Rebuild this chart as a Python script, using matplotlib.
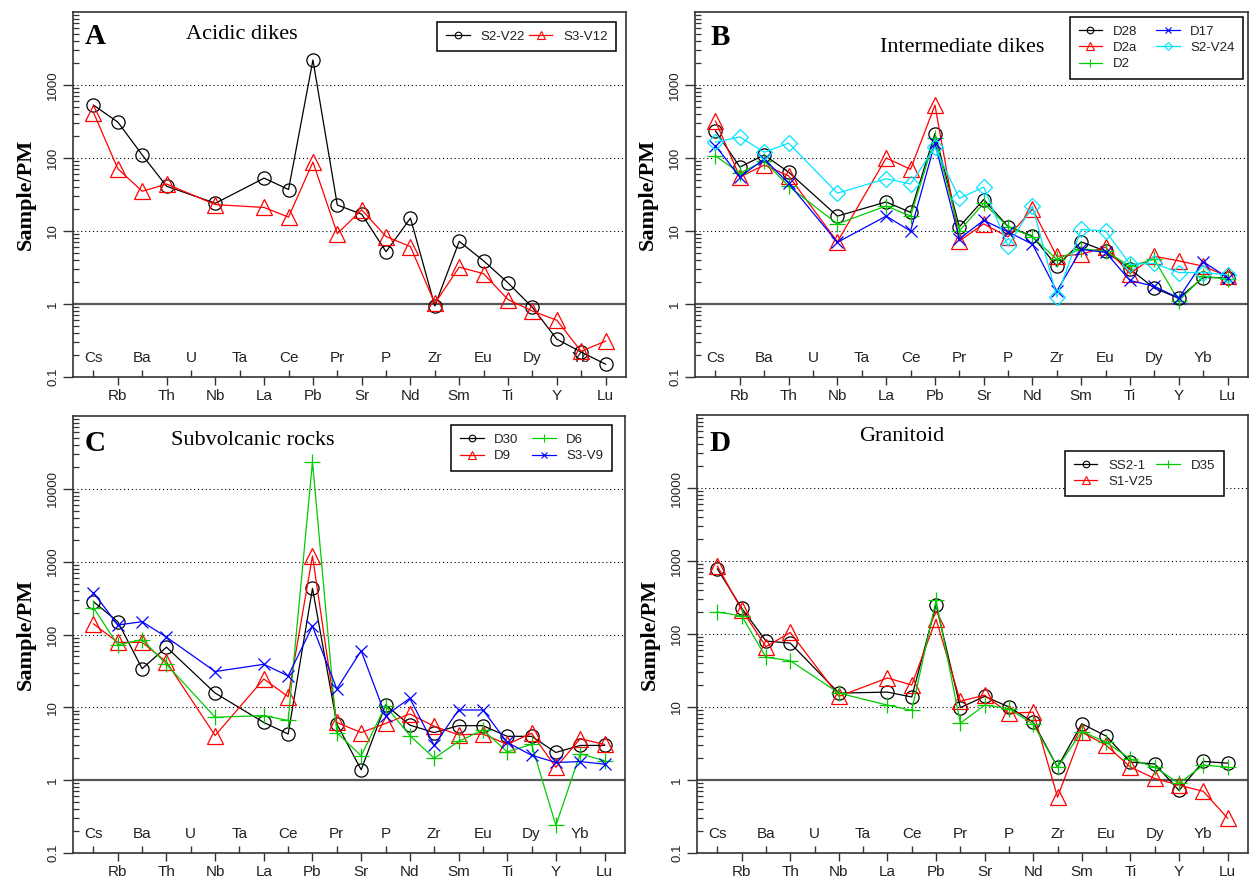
import matplotlib
matplotlib.use("Agg")
import matplotlib.pyplot as plt
import numpy as np
from matplotlib.lines import Line2D
from matplotlib.ticker import FixedLocator, NullFormatter

nan = np.nan

ELEMENTS = ["Cs", "Rb", "Ba", "Th", "U", "Nb", "Ta", "La", "Ce", "Pb", "Pr",
            "Sr", "P", "Nd", "Zr", "Sm", "Eu", "Ti", "Dy", "Y", "Yb", "Lu"]

# primitive-mantle normalised values (U and Ta not analysed)
acidic_s2_v22 = [530, 310, 110, 41, nan, 24, nan, 53, 37, 2200, 22.7, 17, 5.2, 15,
                 0.94, 7.2, 3.9, 1.95, 0.9, 0.33, 0.22, 0.15]
acidic_s3_v12 = [420, 71, 35, 44, nan, 23, nan, 21, 15.5, 88, 9.2, 19.5, 8.4, 6.1,
                 1.02, 3.2, 2.6, 1.15, 0.8, 0.6, 0.225, 0.31]

inter_d28 = [235, 75, 110, 64, nan, 16, nan, 25, 18, 215, 11.4, 27, 11.5, 8.5,
             3.3, 7.1, 5.3, 3.0, 1.65, 1.2, 2.3, 2.3]
inter_d2a = [320, 55, 80, 57, nan, 7.1, nan, 100, 70, 530, 7.3, 12.5, 8.3, 20,
             4.5, 4.8, 6.0, 2.6, 4.5, 3.9, 3.3, 2.4]
inter_d2 = [107, 62, 91, 41, nan, 12.5, nan, 22, 16, 190, 10, 24, 11.4, 8.3,
            4.1, 5.7, 5.3, 3.3, 4.1, 1.1, 2.4, 2.2]
inter_d17 = [147, 55, 97, 45, nan, 7, nan, 16, 10, 160, 7.8, 14, 9.7, 6.6,
             1.5, 5.6, 5.1, 2.1, 1.75, 1.2, 3.8, 2.3]
inter_s2_v24 = [165, 194, 120, 160, nan, 33, nan, 52, 44, 140, 28, 40, 6.2, 22,
                1.25, 10.5, 10, 3.5, 3.6, 2.7, 2.7, 2.5]

subv_d30 = [282, 150, 34, 67, nan, 15.7, nan, 6.2, 4.3, 430, 5.9, 1.39, 10.8, 5.7,
            4.5, 5.6, 5.6, 4.0, 4.0, 2.4, 3.0, 3.0]
subv_d9 = [140, 78, 78, 42, nan, 4.1, nan, 24.5, 14, 1200, 6.2, 4.5, 6.0, 8.1,
           5.5, 4.2, 4.3, 3.1, 4.4, 1.5, 3.7, 3.1]
subv_d6 = [234, 72, 85, 39, nan, 7.3, nan, 7.7, 6.6, 23500, 4.5, 2.16, 10.5, 4.1,
           2.0, 3.4, 4.9, 2.45, 3.1, 0.24, 2.3, 1.85]
subv_s3_v9 = [376, 135, 150, 92, nan, 31, nan, 39, 27, 130, 17.9, 60, 7.7, 13.3,
              3.0, 9.2, 9.2, 3.3, 2.2, 1.75, 1.8, 1.66]

gran_ss2_1 = [780, 226, 80, 75, nan, 15.5, nan, 16, 13.7, 250, 9.8, 14, 10, 6.2,
              1.5, 5.9, 4.0, 1.76, 1.66, 0.72, 1.8, 1.7]
gran_s1_v25 = [850, 215, 67, 105, nan, 14, nan, 25, 20, 160, 12, 14.5, 8.2, 8.5,
               0.58, 4.5, 3.0, 1.5, 1.05, 0.85, 0.7, 0.3]
gran_d35 = [200, 177, 48, 43, nan, 15.5, nan, 10.6, 9.0, 290, 6.0, 10.6, 9.5, 5.8,
            1.5, 4.6, 3.3, 1.94, 1.5, 0.9, 1.6, 1.5]

SERIF = "Liberation Serif"
SANS = "Liberation Sans"
TXT = "#222222"
FRAME = "#333333"

STYLE = {
    "black": dict(color="black", marker="o", ms=9.5),
    "red": dict(color="#ff0000", marker="^", ms=11),
    "green": dict(color="#00cc00", marker="+", ms=12),
    "blue": dict(color="#0000ff", marker="x", ms=9),
    "cyan": dict(color="#00e5ff", marker="D", ms=8),
}

FIG_W, FIG_H = 1251, 880


def draw_panel(rect, letter, letter_xy, title, title_xy, series, ymax,
               legend_anchor, colspacing):
    l, t, r, b = rect
    ax = fig.add_axes([l / FIG_W, 1 - b / FIG_H, (r - l) / FIG_W, (b - t) / FIG_H])
    x = np.arange(1, len(ELEMENTS) + 1)

    handles = []
    for name, vals, key in series:
        st = STYLE[key]
        v = np.asarray(vals, dtype=float)
        ok = np.isfinite(v)
        ax.plot(x[ok], v[ok], color=st["color"], lw=0.9, marker=st["marker"],
                ms=st["ms"], mfc="none", mec=st["color"], mew=0.9, zorder=3)
        handles.append(Line2D([], [], color=st["color"], lw=0.9, marker=st["marker"],
                              ms=st["ms"] * 0.5, mfc="none", mew=0.8, label=name))

    ax.set_yscale("log")
    ax.set_ylim(0.1, ymax)
    ax.set_xlim(0.16, 22.84)

    decades = [10.0 ** k for k in range(-1, int(round(np.log10(ymax))))]
    for d in decades:
        if d >= 10:
            ax.axhline(d, color="black", lw=0.8, ls=(0, (1, 2.5)), zorder=1)
    ax.axhline(1, color="#555555", lw=1.6, zorder=1)

    ax.yaxis.set_major_locator(FixedLocator(decades))
    ax.set_yticklabels([f"{d:g}" for d in decades])
    minors = [m * d for d in decades + [ymax] for m in range(2, 10) if m * d < ymax]
    ax.yaxis.set_minor_locator(FixedLocator(minors))
    ax.yaxis.set_minor_formatter(NullFormatter())
    ax.tick_params(axis="y", which="major", direction="out", length=7, width=1,
                   labelsize=9.5, labelrotation=90, pad=3, color=FRAME, labelcolor=TXT)
    ax.tick_params(axis="y", which="minor", direction="in", length=4, width=0.9,
                   color=FRAME)
    for lab in ax.get_yticklabels():
        lab.set_fontfamily(SANS)
        lab.set_va("center")

    ax.xaxis.set_major_locator(FixedLocator(x[1::2]))
    ax.xaxis.set_minor_locator(FixedLocator(x[0::2]))
    ax.tick_params(axis="x", which="major", direction="out", length=5.5, width=1,
                   labelbottom=False, color=FRAME)
    ax.tick_params(axis="x", which="minor", direction="in", length=5.3, width=1,
                   labelbottom=False, color=FRAME)
    for i, el in enumerate(ELEMENTS):
        dy = 13.5 if i % 2 == 0 else -13.7
        ax.annotate(el, xy=(i + 1, 0), xycoords=("data", "axes fraction"),
                    xytext=(0, dy), textcoords="offset points", ha="center",
                    va="center", fontsize=11, family=SANS, color=TXT, zorder=1,
                    annotation_clip=False)

    for sp in ax.spines.values():
        sp.set_color(FRAME)
        sp.set_linewidth(1.2)

    ax.set_ylabel("Sample/PM", family=SERIF, fontweight="bold", fontsize=16)
    ax.yaxis.set_label_coords(-37 / (r - l), 0.5)

    ax.text(*letter_xy, letter, transform=ax.transAxes, family=SERIF,
            fontweight="bold", fontsize=21, ha="center", va="center")
    ax.text(*title_xy, title, transform=ax.transAxes, family=SERIF,
            fontsize=16, ha="center", va="center")

    leg = ax.legend(handles=handles, loc="upper right", bbox_to_anchor=legend_anchor,
                    ncol=2, fontsize=9.5, frameon=True, fancybox=False,
                    edgecolor="black", framealpha=1, handlelength=1.8,
                    handletextpad=0.8, columnspacing=colspacing, labelspacing=0.3,
                    borderpad=0.65, borderaxespad=0)
    leg.get_frame().set_linewidth(1.1)
    leg.set_zorder(5)
    for txt in leg.get_texts():
        txt.set_fontfamily(SANS)
        txt.set_color(TXT)
    return ax


fig = plt.figure(figsize=(FIG_W / 100, FIG_H / 100), dpi=100)

draw_panel((73, 12, 626, 377), "A", (0.04, 0.934), "Acidic dikes", (0.306, 0.937),
           [("S2-V22", acidic_s2_v22, "black"), ("S3-V12", acidic_s3_v12, "red")],
           1e4, (0.982, 0.973), 0.3)

draw_panel((695, 12, 1248, 377), "B", (0.045, 0.93), "Intermediate dikes", (0.483, 0.904),
           [("D28", inter_d28, "black"), ("D2a", inter_d2a, "red"), ("D2", inter_d2, "green"),
            ("D17", inter_d17, "blue"), ("S2-V24", inter_s2_v24, "cyan")],
           1e4, (0.991, 0.986), 1.4)

draw_panel((73, 416, 625, 853), "C", (0.04, 0.938), "Subvolcanic rocks", (0.326, 0.945),
           [("D30", subv_d30, "black"), ("D9", subv_d9, "red"), ("D6", subv_d6, "green"),
            ("S3-V9", subv_s3_v9, "blue")],
           1e5, (0.976, 0.979), 1.0)

draw_panel((697, 415, 1248, 853), "D", (0.042, 0.936), "Granitoid", (0.372, 0.952),
           [("SS2-1", gran_ss2_1, "black"), ("S1-V25", gran_s1_v25, "red"),
            ("D35", gran_d35, "green")],
           1e5, (0.956, 0.918), 0.3)

fig.savefig("out.png", dpi=100)
